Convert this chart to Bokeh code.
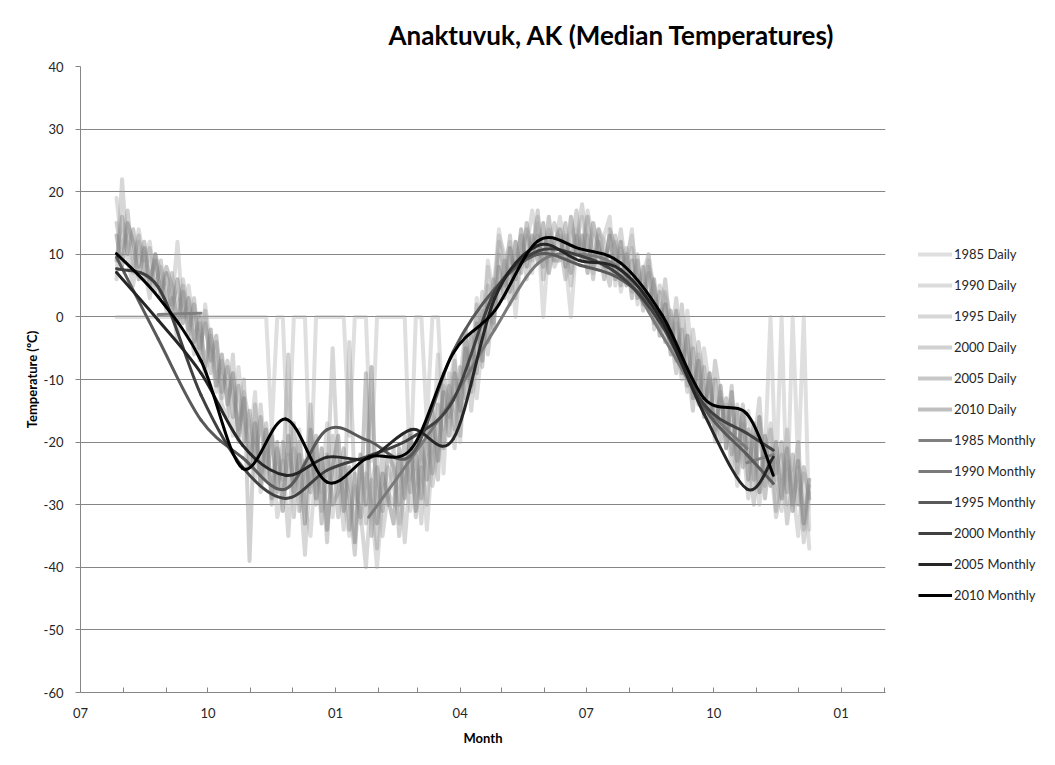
from bokeh.plotting import figure
from bokeh.models import FixedTicker, Legend, LegendItem, ColumnDataSource
from bokeh.embed import file_html
from bokeh.resources import INLINE

# ---------------- data ----------------
title_text = "Anaktuvuk, AK (Median Temperatures)"
years = ["1985", "1990", "1995", "2000", "2005", "2010"]

# daily readings sampled every 4 days (day 0 = 1 July)
daily_days = list(range(26, 527, 4))

daily_1985 = [0, 0, 0, 0, 0, 0, 0, 0, 0, 0,
              0, 0, 0, 0, 0, 0, 0, 0, 0, 0,
              0, 0, 0, 0, 0, 0, 0, 0, -18, 0,
              0, -22, 0, 0, 0, -27, 0, 0, 0, 0,
              0, 0, -19, 0, 0, 0, -23, 0, 0, 0,
              0, 0, 0, -26, 0, 0, -17, 0, 0, -18,
              -12, -6, -16, -2, -10, 3, -4, 9, 4, 14,
              8, 12, 0, 10, 13, 7, 15, 0, 12, 9,
              13, 9, 0, 12, 16, 10, 7, 13, 9, 11,
              12, 4, 9, 13, 6, 3, 10, 4, -1, 2,
              -5, -1, -8, -3, -12, -6, -14, -9, -17, -12,
              -21, -14, -25, -17, -23, -19, -28, -22, 0, -26,
              0, -30, 0, -24, 0, -34]
daily_1990 = [19, 11, 13, 7, 14, 9, 12, 5, 8, 3,
              2, 12, 0, 5, -2, -7, 2, -5, -12, -7,
              -13, -19, -8, -16, -21, -12, -28, -22, -19, -32,
              -28, -22, -26, -18, -30, -35, -23, -28, -17, -32,
              -23, -29, -35, -27, -33, -25, -30, -40, -29, -24,
              -27, -33, -23, -31, -26, -20, -34, -22, -6, -25,
              -9, -14, -20, -8, -3, -13, -4, 8, 0, 13,
              10, 6, 12, 8, 11, 17, 12, 9, 13, 10,
              16, 11, 9, 14, 10, 17, 12, 8, 13, 16,
              5, 11, 8, 14, 2, 7, 10, 1, -2, 4,
              0, -5, -10, 1, -8, -13, -5, -11, -20, -16,
              -14, -18, -27, -19, -15, -24, -30, -22, -17, -26,
              -31, -23, -27, -35, -25, -37]
daily_1995 = [6, 22, 9, 5, 12, 8, 3, 10, 7, 1,
              3, -4, 6, 0, -6, -1, -10, -3, -8, -14,
              -16, -6, -20, -12, -17, -26, -14, -24, -18, -27,
              -23, -35, -21, -26, -38, -24, -20, -31, -27, -5,
              -25, -34, -4, -28, -31, -40, -27, -22, -35, -28,
              -30, -22, -36, -25, -21, -33, -18, -27, -21, -11,
              -13, -21, -10, -2, -15, -6, 4, -6, 3, 12,
              7, 2, 9, 13, 6, 11, 16, 10, 14, 8,
              10, 13, 5, 12, 18, 11, 9, 14, 12, 7,
              8, 14, 7, 11, 6, 3, 9, -2, 5, 3,
              -4, 3, -6, -12, -2, -9, -15, -10, -18, -13,
              -17, -24, -14, -20, -29, -21, -13, -27, -23, -32,
              -27, -18, -30, -24, -36, -28]
daily_2000 = [15, 10, 17, 8, 13, 6, 11, 4, 9, 2,
              7, 1, 5, -2, 3, -6, 1, -9, -4, -13,
              -7, -12, -18, -10, -39, -14, -25, -17, -30, -21,
              -26, -6, -32, -20, -27, -14, -30, -23, -36, -19,
              -32, -24, -29, -38, -23, -33, -26, -37, -21, -30,
              -21, -35, -27, -19, -32, -24, -30, -18, -26, -9,
              -16, -7, -19, -3, -12, 2, -8, 5, -1, 10,
              5, 13, 3, 10, 14, 9, 17, 6, 11, 15,
              12, 6, 11, 17, 9, 13, 6, 14, 9, 5,
              13, 7, 11, 4, 10, 1, 8, 5, -2, 6,
              -3, -9, 2, -7, -15, -4, -11, -17, -7, -13,
              -19, -11, -25, -14, -22, -30, -16, -24, -18, -31,
              -22, -33, -26, -20, -34, -27]
daily_2005 = [9, 16, 10, 14, 8, 12, 6, 9, 4, 8,
              5, -1, 4, -3, 2, -5, -1, -7, -3, -12,
              -8, -16, -11, -20, -15, -23, -16, -26, -19, -28,
              -20, -27, -17, -31, -23, -28, -19, -33, -22, -30,
              -28, -21, -34, -25, -32, -9, -35, -24, -31, -22,
              -24, -30, -19, -28, -22, -29, -17, -25, -14, -21,
              -11, -18, -8, -13, -3, -9, 1, -4, 6, 2,
              9, 4, 12, 7, 15, 10, 13, 8, 16, 9,
              9, 15, 7, 13, 9, 16, 8, 12, 6, 14,
              11, 5, 10, 3, 9, 2, 7, -1, 4, -4,
              1, -7, -2, -11, -5, -14, -8, -17, -10, -20,
              -13, -22, -15, -24, -18, -26, -16, -29, -21, -25,
              -20, -28, -22, -30, -24, -29]
daily_2010 = [13, 8, 15, 12, 6, 11, 5, 10, 3, 7,
              1, 6, -1, 3, -4, 0, -8, -2, -11, -6,
              -14, -9, -19, -13, -24, -17, -27, -18, -29, -20,
              -31, -19, -28, -22, -33, -18, -29, -21, -34, -24,
              -19, -31, -24, -36, -22, -30, -8, -33, -25, -29,
              -33, -21, -29, -18, -31, -20, -26, -15, -23, -12,
              -19, -9, -15, -5, -11, -1, -7, 3, -2, 8,
              3, 11, 6, 14, 8, 13, 9, 15, 7, 12,
              14, 8, 16, 10, 13, 7, 15, 11, 8, 13,
              6, 12, 5, 9, 3, 8, 1, 6, -3, 2,
              -6, 1, -9, -3, -13, -7, -16, -9, -19, -11,
              -21, -12, -23, -15, -26, -17, -28, -19, -27, -20,
              -29, -21, -31, -23, -33, -26]

# monthly medians (None = month without data)
monthly_days = [26, 56, 87, 117, 148, 178, 208, 239, 269, 299, 330, 360, 390, 420, 450, 481, 500]
monthly_1985 = [None, 0.4, 0.6, None, None, None, None, None, None, None, None, None, None, None, None, -23.3, -22.0]
monthly_1990 = [None, None, None, None, None, None, -32.0, -22.5, -13.0, -2.0, 8.5, 10.0, 7.5, -3.0, -14.0, -21.0, None]
monthly_1995 = [9.5, -3.5, -16.5, -22.5, -27.5, -18.0, -19.8, -22.0, -5.5, 4.5, 10.0, 8.3, 6.0, -0.5, -14.5, -22.0, -26.6]
monthly_2000 = [7.7, 4.8, -12.5, -24.0, -29.0, -24.5, -22.2, -19.3, -13.3, 4.0, 10.5, 9.8, 6.5, -1.5, -14.0, -18.6, -21.3]
monthly_2005 = [7.1, -0.5, -9.0, -20.5, -25.3, -22.4, -22.6, -18.0, -19.5, 3.0, 11.4, 9.0, 7.5, -0.8, -15.5, -27.5, -22.4]
monthly_2010 = [10.1, 3.2, -7.0, -24.2, -16.3, -26.4, -22.4, -21.0, -5.8, 1.0, 12.1, 10.9, 8.6, 0.2, -13.0, -15.5, -25.3]

month_tick_days = [0, 92, 184, 274, 365, 457, 549]
month_tick_labels = ["07", "10", "01", "04", "07", "10", "01"]
minor_tick_days = [31, 62, 123, 153, 215, 243, 304, 335, 396, 427, 488, 518, 580]
y_ticks = [-60, -50, -40, -30, -20, -10, 0, 10, 20, 30, 40]

daily_series = [daily_1985, daily_1990, daily_1995, daily_2000, daily_2005, daily_2010]
monthly_series = [monthly_1985, monthly_1990, monthly_1995, monthly_2000, monthly_2005, monthly_2010]

# ---------------- styles ----------------
FONT = "Lato"
daily_colors = ["#b0b0b0", "#a8a8a8", "#a0a0a0", "#999999", "#8c8c8c", "#808080"]
daily_alphas = [0.4, 0.4, 0.42, 0.45, 0.48, 0.5]
monthly_colors = ["#808080", "#7a7a7a", "#595959", "#404040", "#262626", "#000000"]
GRID = "#868686"


def smooth_segments(xs, ys):
    """Excel-style smoothed line: cubic Bezier segments through the points."""
    runs, cur = [], []
    for x, y in zip(xs, ys):
        if y is None:
            if cur:
                runs.append(cur)
            cur = []
        else:
            cur.append((x, y))
    if cur:
        runs.append(cur)
    d = dict(x0=[], y0=[], x1=[], y1=[], cx0=[], cy0=[], cx1=[], cy1=[])
    for pts in runs:
        n = len(pts)
        for i in range(n - 1):
            p0 = pts[i - 1] if i > 0 else pts[i]
            p1 = pts[i]
            p2 = pts[i + 1]
            p3 = pts[i + 2] if i + 2 < n else pts[i + 1]
            d["x0"].append(p1[0]); d["y0"].append(p1[1])
            d["x1"].append(p2[0]); d["y1"].append(p2[1])
            d["cx0"].append(p1[0] + (p2[0] - p0[0]) / 6.0)
            d["cy0"].append(p1[1] + (p2[1] - p0[1]) / 6.0)
            d["cx1"].append(p2[0] - (p3[0] - p1[0]) / 6.0)
            d["cy1"].append(p2[1] - (p3[1] - p1[1]) / 6.0)
    return d


p = figure(frame_width=805, frame_height=626,
           x_range=(0, 581), y_range=(-60, 40),
           output_backend="svg", toolbar_location=None,
           min_border_left=80, min_border_top=66,
           min_border_right=162, min_border_bottom=65,
           background_fill_color="white", border_fill_color="white")
p.outline_line_color = None

items = []
for yr, vals, col, a in zip(years, daily_series, daily_colors, daily_alphas):
    r = p.line(daily_days, vals, line_color=col, line_alpha=a, line_width=4,
               line_join="round", line_cap="round")
    items.append(LegendItem(label=yr + " Daily", renderers=[r]))

for yr, vals, col in zip(years, monthly_series, monthly_colors):
    src = ColumnDataSource(smooth_segments(monthly_days, vals))
    p.bezier(x0="x0", y0="y0", x1="x1", y1="y1", cx0="cx0", cy0="cy0",
             cx1="cx1", cy1="cy1", source=src, line_color=col, line_width=3,
             line_cap="round")
    # legend key: a line renderer holding the series' first monthly point
    first = next((d, v) for d, v in zip(monthly_days, vals) if v is not None)
    key = p.line([first[0]], [first[1]], line_color=col, line_width=3)
    items.append(LegendItem(label=yr + " Monthly", renderers=[key]))

# axes
p.xaxis.ticker = FixedTicker(ticks=month_tick_days, minor_ticks=minor_tick_days)
p.xaxis.major_label_overrides = {d: l for d, l in zip(month_tick_days, month_tick_labels)}
p.yaxis.ticker = FixedTicker(ticks=y_ticks)
p.yaxis.major_label_overrides = {v: str(v) for v in y_ticks}

for ax in (p.xaxis[0], p.yaxis[0]):
    ax.axis_line_color = GRID
    ax.major_tick_line_color = GRID
    ax.minor_tick_line_color = GRID
    ax.major_label_text_font = FONT
    ax.major_label_text_font_size = "13px"
    ax.major_label_text_color = "#262626"
    ax.axis_label_text_font = FONT
    ax.axis_label_text_font_size = "13px"
    ax.axis_label_text_font_style = "bold"
    ax.axis_label_text_color = "#000000"

p.xaxis.major_tick_in = 5
p.xaxis.major_tick_out = 0
p.xaxis.minor_tick_in = 5
p.xaxis.minor_tick_out = 0
p.xaxis.major_label_standoff = 15
p.xaxis.axis_label = "Month"
p.xaxis.axis_label_standoff = 9

p.yaxis.major_tick_in = 0
p.yaxis.major_tick_out = 5
p.yaxis.minor_tick_line_color = None
p.yaxis.major_label_standoff = 12
p.yaxis.axis_label = "Temperature (ºC)"
p.yaxis.axis_label_standoff = 1

p.xgrid.grid_line_color = None
p.ygrid.grid_line_color = GRID
p.ygrid.grid_line_width = 1

# title
p.title.text = title_text
p.title.text_font = FONT
p.title.text_font_size = "26px"
p.title.text_font_style = "bold"
p.title.text_color = "#000000"
p.title.align = "left"
p.title.offset = 308
p.title.standoff = 32

legend = Legend(items=items, location=(33, 87),
                label_text_font=FONT, label_text_font_size="13px",
                label_text_color="#262626",
                glyph_width=34, glyph_height=20, label_height=20,
                spacing=11, padding=0, margin=0, label_standoff=2,
                border_line_color=None, background_fill_alpha=0)
p.add_layout(legend, "right")

open("out.html", "w").write(file_html(p, INLINE))
